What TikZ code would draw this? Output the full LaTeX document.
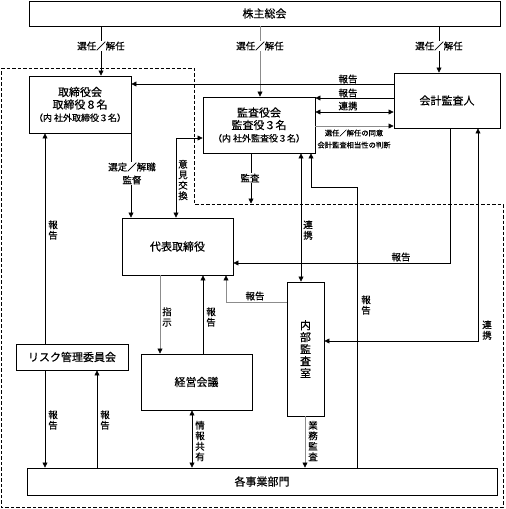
\documentclass[tikz,border=0pt]{standalone}
\usepackage{fontspec}
\setmainfont{Noto Sans CJK JP}[FakeBold=0.3]
\usetikzlibrary{arrows.meta}

\begin{document}
\begin{tikzpicture}
  [x=1pt,y=-1pt,line width=0.6pt,>={Triangle[length=5pt,width=5pt]},
   every node/.style={inner sep=1pt,align=center,font=\fontsize{9.5}{10.5}\selectfont}]
 \tikzset{BoxStyle/.style={draw,line width=0.9pt,inner sep=0pt,font=\fontsize{11}{12.5}\selectfont}}
 \tikzset{EdgeStyle/.style={->}}
 \tikzset{GrayEdge/.style={draw=black!45,-{Triangle[length=5pt,width=5pt,color=black]}}}
 \tikzset{LabelStyle/.style={fill=white}}

 \useasboundingbox (0,0) rectangle (506,509);
 \draw[line width=0.7pt,dash pattern=on 3.5pt off 2pt] (1,68) -- (194,68) -- (194,204) -- (503,204) -- (503,507) -- (1,507) -- cycle;

  \node[BoxStyle,minimum width=471pt,minimum height=25pt] (n1) at (264.5,13.5) {株主総会};
  \node[BoxStyle,minimum width=102pt,minimum height=57pt] (n2) at (80,104.5)
    {取締役会\\取締役８名\\{\fontsize{9}{12}\selectfont （内 社外取締役３名）}};
  \node[BoxStyle,minimum width=112pt,minimum height=56pt] (n3) at (259,125)
    {監査役会\\監査役３名\\{\fontsize{9}{12}\selectfont （内 社外監査役３名）}};
  \node[BoxStyle,minimum width=106pt,minimum height=55pt] (n4) at (447,100.5) {会計監査人};
  \node[BoxStyle,minimum width=111pt,minimum height=57pt] (n5) at (177.5,246.5) {代表取締役};
  \node[BoxStyle,minimum width=112pt,minimum height=26pt] (n6) at (72,357) {リスク管理委員会};
  \node[BoxStyle,minimum width=111pt,minimum height=56pt] (n7) at (196.5,382) {経営会議};
  \node[BoxStyle,minimum width=37pt,minimum height=134pt,font=\fontsize{11}{12}\selectfont] (n8) at (305.5,349) {内\\部\\監\\査\\室};
  \node[BoxStyle,minimum width=470pt,minimum height=27pt] (n9) at (262,481.5) {各事業部門};
  \coordinate (c1) at (251,203.5);

 \foreach \from/\to/\x in {n1/n2/101,n1/n4/439,n2/n5/131,n6/n9/45}
    \draw[EdgeStyle] (\from.south -| \x,0) -- (\to.north -| \x,0);
 \foreach \from/\to/\x in {n2/n6/45,n6/n9/97,n5/n7/203}
    \draw[<-] (\from.south -| \x,0) -- (\to.north -| \x,0);
 \foreach \from/\to/\x in {n3/n8/301,n7/n9/192}
    \draw[<->] (\from.south -| \x,0) -- (\to.north -| \x,0);
 \foreach \from/\to/\x in {n1/n3/260,n5/n7/160,n8/n9/305}
    \draw[GrayEdge] (\from.south -| \x,0) -- (\to.north -| \x,0);

  \draw[EdgeStyle] (n4.west |- 0,84) -- (n2.east |- 0,84);
  \draw[EdgeStyle] (n4.west |- 0,98) -- (n3.east |- 0,98);
  \draw[<->] (n3.east |- 0,112) -- (n4.west |- 0,112);
  \draw[GrayEdge] (n3.east |- 0,126) -- (n4.west |- 0,126);
  \draw[<->] (n5.north -| 176,0) |- (n3.west |- 0,138);
  \draw[EdgeStyle] (n3.south -| 251,0) -- (c1);
  \draw[EdgeStyle] (n9.north -| 357,0) |- (311,187) -- (n3.south -| 311,0);
  \draw[EdgeStyle] (n4.south -| 450,0) |- (n5.east |- 0,263);
  \draw[<->] (n8.east |- 0,341) -| (n4.south -| 478,0);
  \draw[GrayEdge] (n8.west |- 0,302) -| (n5.south -| 226,0);

  \node[LabelStyle] (t1) at (101,46) {選任／解任};
  \node[LabelStyle] (t2) at (260,46) {選任／解任};
  \node[LabelStyle] (t3) at (439,46) {選任／解任};
  \node (t4) at (348,79) {報告};
  \node (t5) at (348,93) {報告};
  \node (t6) at (348,106) {連携};
  \node[font=\fontsize{7.3}{12}\selectfont] (t7) at (354,139) {選任／解任の同意\\会計監査相当性の判断};
  \node[LabelStyle,font=\fontsize{9.5}{13}\selectfont] (t8) at (132,173.5) {選定／解職\\監督};
  \node (t9) at (183,180) {意\\見\\交\\換};
  \node[LabelStyle] (t10) at (250,178) {監査};
  \node (t11) at (53,230) {報\\告};
  \node (t12) at (308,230) {連\\携};
  \node (t13) at (401,257) {報告};
  \node (t14) at (255,296) {報告};
  \node (t15) at (366,305) {報\\告};
  \node (t16) at (487,330) {連\\携};
  \node (t17) at (167,317) {指\\示};
  \node (t18) at (211,317) {報\\告};
  \node (t19) at (53,420) {報\\告};
  \node (t20) at (105,420) {報\\告};
  \node (t21) at (200,441) {情\\報\\共\\有};
  \node (t22) at (313,441) {業\\務\\監\\査};

\end{tikzpicture}
\end{document}
